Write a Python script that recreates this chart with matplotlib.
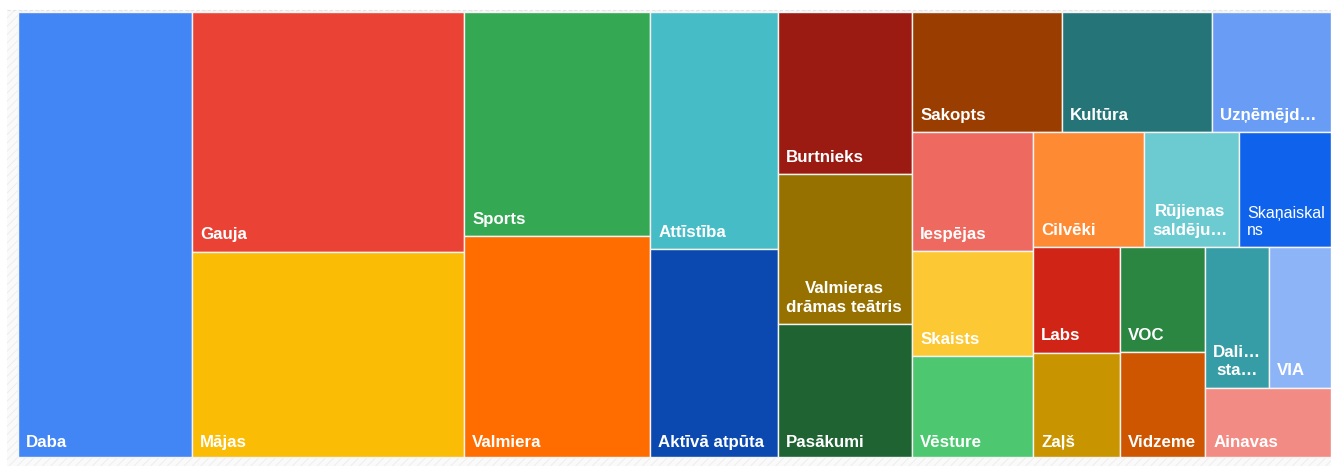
import matplotlib
matplotlib.use("Agg")
import matplotlib.pyplot as plt
from matplotlib.patches import Rectangle

# word counts, in the order the treemap places them
labels = ["Daba", "Gauja", "Mājas", "Sports", "Valmiera", "Attīstība",
          "Aktīvā atpūta", "Burtnieks", "Valmieras\ndrāmas teātris", "Pasākumi",
          "Sakopts", "Kultūra", "Uzņēmējd…", "Iespējas", "Skaists", "Vēsture",
          "Cilvēki", "Rūjienas\nsaldēju…", "Skaņaiskal\nns", "Labs", "Zaļš",
          "VOC", "Vidzeme", "Dali…\nsta…", "VIA", "Ainavas"]
values = [774, 653, 558, 417, 411, 304, 266, 217, 201, 178,
          180, 180, 143, 144, 127, 122, 128, 109, 106, 92, 91,
          89, 89, 90, 87, 87]
colors = ["#4285F4", "#EA4335", "#FABC05", "#34A853", "#FF6D00", "#46BDC6",
          "#0B49B0", "#9B1A12", "#967100", "#1F6333", "#9A3D00", "#257478",
          "#699DF5", "#EE6A60", "#FCC934", "#4DC870", "#FF8A34", "#6CCAD1",
          "#0E62EB", "#D02416", "#C89400", "#2B8641", "#CE5600", "#369DA6",
          "#8EB4F8", "#F28B84"]

# how many cells go in each strip (strips run along the shorter side)
strips = [1, 2, 2, 2, 3, 3, 3, 3, 2, 2, 2, 1]


def layout(vals, x, y, w, h, counts):
    rects = []
    i = 0
    for n in counts:
        grp = vals[i:i + n]
        rest = sum(vals[i:])
        s = sum(grp)
        if w >= h:
            cw = w * s / rest
            yy = y
            for v in grp:
                ch = h * v / s
                rects.append((x, yy, cw, ch))
                yy += ch
            x += cw
            w -= cw
        else:
            rh = h * s / rest
            xx = x
            for v in grp:
                cw = w * v / s
                rects.append((xx, y, cw, rh))
                xx += cw
            y += rh
            h -= rh
        i += n
    return rects


plt.rcParams['font.family'] = ['Liberation Sans', 'DejaVu Sans']
plt.rcParams['hatch.linewidth'] = 0.6

fig = plt.figure(figsize=(13.31, 4.66), dpi=100)
ax = fig.add_axes([0, 0, 1, 1])
ax.set_xlim(0, 1331)
ax.set_ylim(466, 0)
ax.axis('off')

# faint striped frame behind the map
ax.add_patch(Rectangle((7, 10), 1330, 460, facecolor='#fafafa',
                       edgecolor='#ececec', hatch='////', linewidth=0))
ax.plot([7, 1331], [10, 10], color='#e4e4e4', lw=0.8, ls=(0, (3, 2)))

x0, y0, W, H = 18, 12, 1313, 445
rects = layout(values, x0, y0, W, H, strips)
for (x, y, w, h), lab, c in zip(rects, labels, colors):
    ax.add_patch(Rectangle((x, y), w, h, facecolor=c, edgecolor='#f4f4f4',
                           linewidth=1.0))
    # labels on the bottom edge sit a little lower
    pad = 7 if abs(y + h - (y0 + H)) < 1 else 9.5
    if lab.startswith('Skaņ'):
        ax.text(x + 8, y + h - 9, lab, color='white', fontsize=11.5,
                ha='left', va='bottom', linespacing=1.15)
        continue
    ax.text(x + 8, y + h - pad, lab, color='white', fontsize=12.2,
            fontweight='bold', ha='left', va='bottom',
            multialignment='center', linespacing=1.3)

fig.savefig("out.png", dpi=100)
